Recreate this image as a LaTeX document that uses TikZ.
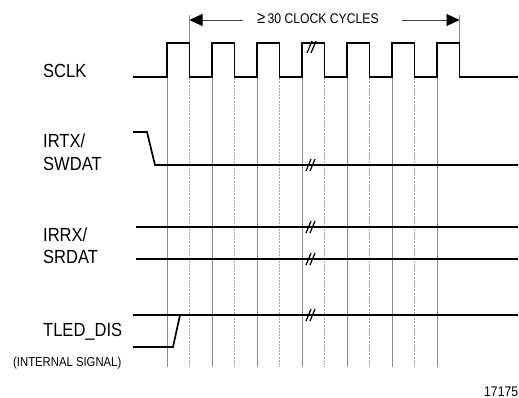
\documentclass[tikz,border=0pt]{standalone}
\usepackage{fontspec}
\newfontfamily\labfont[FakeStretch=0.87]{Liberation Sans}
\usetikzlibrary{arrows.meta}
\begin{document}
\begin{tikzpicture}[x=1pt,y=-1pt,
  sig/.style={line width=1.7pt, black, line join=miter},
  gridsolid/.style={line width=0.8pt, black!45},
  griddash/.style={line width=0.8pt, black!35, dash pattern=on 2pt off 1.2pt},
  lbl/.style={anchor=base west, inner sep=0pt, font=\labfont\fontsize{19}{19}\selectfont},
  small/.style={anchor=base west, inner sep=0pt, font=\labfont\fontsize{13}{13}\selectfont},
  dimarrow/.style={line width=0.8pt, black!75, -{Triangle[length=13pt,width=12pt,color=black]}},
  brkmk/.pic={\draw[line width=1.2pt] (-5,6) -- (0,-6); \draw[line width=1.2pt] (-1,6) -- (4,-6);}]
\useasboundingbox[fill=white] (0,0) rectangle (519,398);

% grid lines
\foreach \k in {0,...,6} \draw[gridsolid] ({167+45*\k},43) -- ({167+45*\k},367);
\foreach \k in {0,...,5} \draw[griddash] ({189.5+45*\k},43) -- ({189.5+45*\k},367);
\draw[gridsolid] (189.5,15) -- (189.5,43);
\draw[gridsolid] (459.5,15) -- (459.5,43);

% clock
\draw[sig] (133,77) foreach \k in {0,...,6} { -- ({167+45*\k},77) -- ({167+45*\k},43) -- ({189.5+45*\k},43) -- ({189.5+45*\k},77) } -- (518,77);
\pic at (312,47) {brkmk};

% IRTX/SWDAT
\draw[sig] (133,132) -- (147,132) -- (155,165) -- (518,165);
\pic at (311,165) {brkmk};

% IRRX/SRDAT
\draw[sig] (136,227) -- (518,227);
\draw[sig] (136,259) -- (518,259);
\pic at (311,227) {brkmk};
\pic at (311,259) {brkmk};

% TLED_DIS
\draw[sig] (133,315) -- (518,315);
\draw[sig] (133,347) -- (173,347) -- (180,315);
\pic at (311,315) {brkmk};

% labels
\node[lbl] (sclk) at (43,78) {SCLK};
\node[lbl] (irtx) at (43,148) {IRTX/};
\node[lbl] (swdat) at (43,171) {SWDAT};
\node[lbl] (irrx) at (43,241) {IRRX/};
\node[lbl] (srdat) at (43,263) {SRDAT};
\node[lbl] (tled) at (43,336) {TLED\_DIS};
\node[small] (intsig) at (13,366) {(INTERNAL SIGNAL)};
\node[anchor=base west, inner sep=0pt, font=\labfont\fontsize{14}{14}\selectfont] (fig) at (484,396) {17175};

% dimension arrow
\node[anchor=base west, inner sep=0pt, font=\labfont\fontsize{14}{14}\selectfont] (cyc) at (257,24) {{\fontsize{17}{17}\selectfont ≥}\,30 CLOCK CYCLES};
\coordinate (al) at (189.5,20);
\coordinate (ar) at (459.5,20);
\coordinate (alg) at (243,20);
\coordinate (arg) at (402,20);
\draw[dimarrow] (alg) -- (al);
\draw[dimarrow] (arg) -- (ar);
\end{tikzpicture}
\end{document}
